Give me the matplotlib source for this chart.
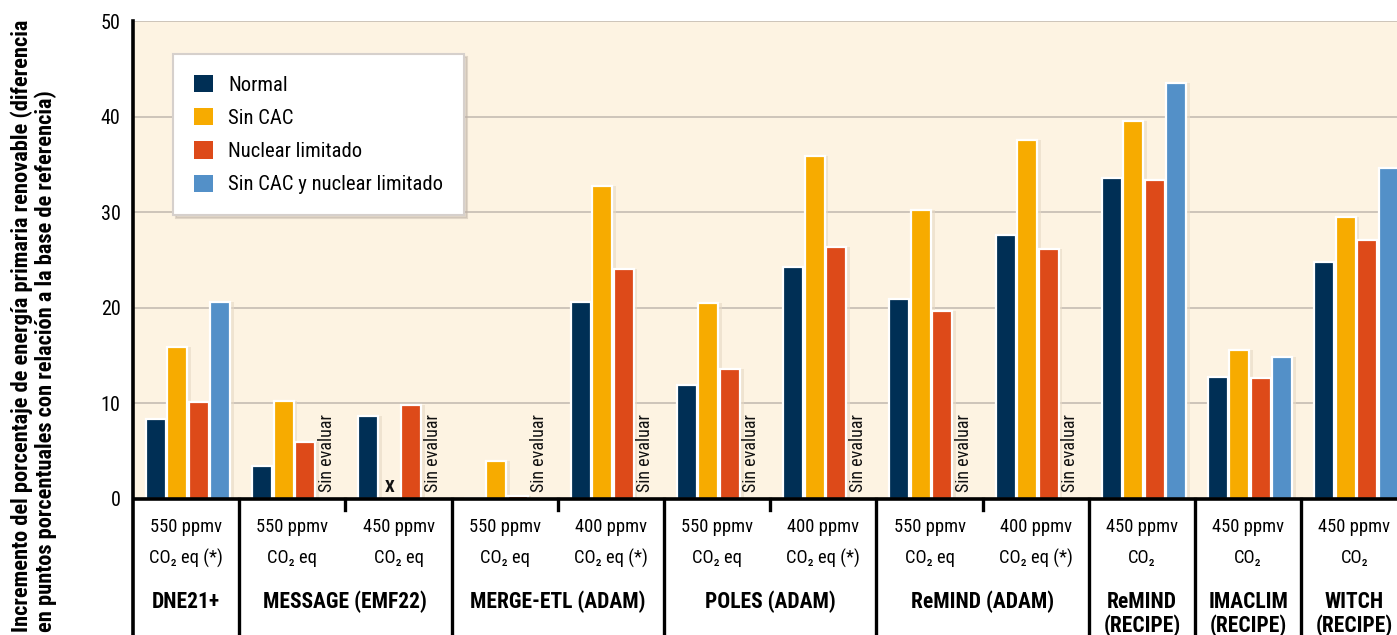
import numpy as np
import matplotlib.pyplot as plt
from matplotlib import font_manager
from matplotlib.patches import Patch

# pick a narrow font if one is installed
fonts = font_manager.fontManager.ttflist
names = {f.name for f in fonts}
narrow = None
for cand in ['Liberation Sans Narrow', 'Roboto Condensed', 'Open Sans Condensed', 'Noto Sans Condensed']:
    if cand in names:
        narrow = cand
        break
if narrow:
    plt.rcParams['font.family'] = [narrow, 'DejaVu Sans']
    scale = 1.0
else:
    plt.rcParams['font.family'] = ['DejaVu Sans']
    scale = 0.82

# Data (nan = not evaluated / not available)
concentration = ['550 ppmv', '550 ppmv', '450 ppmv', '550 ppmv', '400 ppmv', '550 ppmv',
                 '400 ppmv', '550 ppmv', '400 ppmv', '450 ppmv', '450 ppmv', '450 ppmv']
gas = ['CO₂ eq (*)', 'CO₂ eq', 'CO₂ eq', 'CO₂ eq', 'CO₂ eq (*)', 'CO₂ eq',
       'CO₂ eq (*)', 'CO₂ eq', 'CO₂ eq (*)', 'CO₂', 'CO₂', 'CO₂']
models = ['DNE21+', 'MESSAGE (EMF22)', 'MERGE-ETL (ADAM)', 'POLES (ADAM)', 'ReMIND (ADAM)',
          'ReMIND\n(RECIPE)', 'IMACLIM\n(RECIPE)', 'WITCH\n(RECIPE)']
model_slots = [1, 2, 2, 2, 2, 1, 1, 1]

normal = [8.35, 3.4, 8.7, 0.15, 20.6, 11.9, 24.3, 20.9, 27.6, 33.6, 12.8, 24.8]
sin_cac = [15.9, 10.3, np.nan, 4.0, 32.7, 20.5, 35.9, 30.2, 37.6, 39.5, 15.6, 29.5]
nuclear = [10.1, 6.0, 9.8, 0.3, 24.1, 13.6, 26.4, 19.7, 26.1, 33.4, 12.7, 27.06]
sin_cac_nuc = [20.6, np.nan, np.nan, np.nan, np.nan, np.nan, np.nan, np.nan, np.nan, 43.5, 14.9, 34.6]
not_evaluated = [1, 2, 3, 4, 5, 6, 7, 8]
x_marked = [2]

series = [normal, sin_cac, nuclear, sin_cac_nuc]
labels = ['Normal', 'Sin CAC', 'Nuclear limitado', 'Sin CAC y nuclear limitado']
colors = ['#002f55', '#f7ab00', '#dd4a19', '#5390c8']

fig = plt.figure(figsize=(13.97, 6.35), dpi=100)
ax = fig.add_axes([133 / 1397, 0, 1274.4 / 1397, 614 / 635])
ymin = -(635 - 499) / 9.56
ax.set_xlim(0, 12)
ax.set_ylim(ymin, 50)
ax.set_facecolor('white')

# cream plotting area and gridlines
ax.axhspan(0, 50, color='#fdf3e2', zorder=0, lw=0)
for g in [10, 20, 30, 40, 50]:
    ax.axhline(g, color='#c9c1b6', lw=1.3, zorder=1)

slots = np.arange(12)
bw = 0.188
step = 0.2025
for k, vals in enumerate(series):
    xs = slots + 0.122 + k * step + bw / 2
    ax.bar(xs + 0.02, vals, width=bw + 0.03, color='#e6d9c5', alpha=0.6, zorder=2, lw=0)
    ax.bar(xs, vals, width=bw, color=colors[k], edgecolor='white', lw=1.6, zorder=3)

for s in not_evaluated:
    ax.text(s + 0.122 + 3 * step + bw / 2, 0.7, 'Sin evaluar', rotation=90,
            ha='center', va='bottom', fontsize=13 * scale, color='#111111', zorder=4)
for s in x_marked:
    ax.text(s + 0.122 + 1 * step + bw / 2, 0.4, 'X', ha='center', va='bottom',
            fontsize=12.5 * scale, fontweight='bold', color='#111111', zorder=4)

# bottom table
for i in slots:
    ax.text(i + 0.5, -2.95, concentration[i], ha='center', va='center', fontsize=13.3 * scale)
    ax.text(i + 0.5, -6.2, gas[i], ha='center', va='center', fontsize=13.3 * scale)

start = 0
for name, n in zip(models, model_slots):
    for j, line in enumerate(name.split('\n')):
        ax.text(start + n / 2, -10.8 - 2.45 * j, line, ha='center', va='center',
                fontsize=15.5 * scale, fontweight='bold')
    if start > 0:
        ax.plot([start, start], [0, ymin], color='black', lw=2.4, clip_on=False, zorder=5)
    for m in range(1, n):
        ax.plot([start + m, start + m], [0, -1.1], color='black', lw=2.4, zorder=5)
    start += n

ax.axhline(0, color='black', lw=2.6, zorder=5)

for sp in ['top', 'right', 'bottom']:
    ax.spines[sp].set_visible(False)
ax.spines['left'].set_linewidth(2.6)
ax.set_xticks([])
ax.set_yticks([0, 10, 20, 30, 40, 50])
ax.tick_params(axis='y', length=0, pad=9, labelsize=14.5 * scale)

fig.text(0.024, 3 / 635, 'Incremento del porcentaje de energía primaria renovable (diferencia\n'
         'en puntos porcentuales con relación a la base de referencia)',
         rotation=90, ha='center', va='bottom', multialignment='left',
         fontsize=16.2 * scale, fontweight='bold', linespacing=1.1)

handles = [Patch(facecolor=c, edgecolor='none') for c in colors]
leg = ax.legend(handles, labels, loc='upper left', bbox_to_anchor=(173 / 1397, 1 - 54 / 635),
                bbox_transform=fig.transFigure, fontsize=14.9 * scale, frameon=True,
                fancybox=False, framealpha=1, borderpad=1.0, labelspacing=0.65,
                handlelength=0.92, handleheight=0.92, handletextpad=0.75, borderaxespad=0,
                shadow={'color': '#bfb3a8', 'alpha': 0.45})
leg.get_frame().set_edgecolor('#d6d0cc')
leg.get_frame().set_linewidth(1.5)
leg.set_zorder(6)

fig.savefig('out.png', dpi=100)
